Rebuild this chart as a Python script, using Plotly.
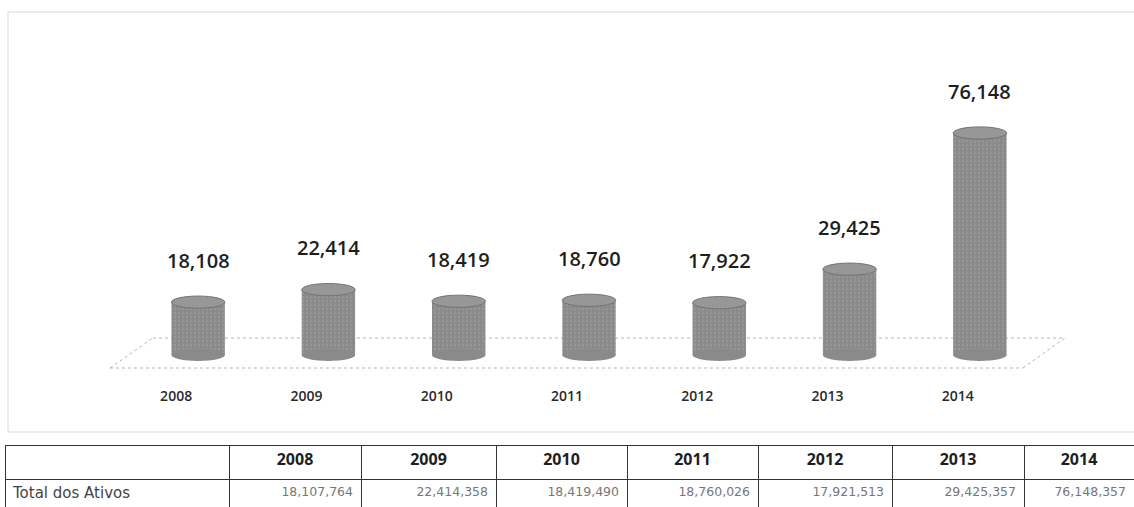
import plotly.graph_objects as go

# ---- data ----
years = ["2008", "2009", "2010", "2011", "2012", "2013", "2014"]
values_thousands = [18108, 22414, 18419, 18760, 17922, 29425, 76148]
bar_labels = ["18,108", "22,414", "18,419", "18,760", "17,922", "29,425", "76,148"]
row_label = "Total dos Ativos"
table_values = ["18,107,764", "22,414,358", "18,419,490", "18,760,026",
                "17,921,513", "29,425,357", "76,148,357"]

W, H = 1134, 507
px = lambda x: x / W
py = lambda y: 1 - y / H

BAR_GRAY = "#8a8a8a"
TOP_GRAY = "#979797"

fig = go.Figure()

fig.add_trace(go.Bar(
    x=list(range(len(years))), y=values_thousands,
    width=0.41,
    marker=dict(color=BAR_GRAY, line=dict(width=0),
                pattern=dict(shape=".", fgcolor="#a8a8a8", size=4, solidity=0.25)),
    hoverinfo="skip", showlegend=False,
))

# cylinder caps derived from the data
cap = 2100
shapes = []
for i, v in enumerate(values_thousands):
    shapes.append(dict(type="circle", xref="x", yref="y", layer="above",
                       x0=i - 0.205, x1=i + 0.205, y0=-cap, y1=cap,
                       fillcolor=BAR_GRAY, line=dict(width=0)))
for i, v in enumerate(values_thousands):
    shapes.append(dict(type="circle", xref="x", yref="y", layer="above",
                       x0=i - 0.205, x1=i + 0.205, y0=v - cap, y1=v + cap,
                       fillcolor=TOP_GRAY, line=dict(color="#737373", width=1)))

# 3D floor (decorative) and chart border
floor = dict(color="#b5b5b5", width=1, dash="dot")
shapes += [
    dict(type="line", xref="paper", yref="paper", layer="below",
         x0=px(153), y0=py(338), x1=px(1065), y1=py(338), line=floor),
    dict(type="line", xref="paper", yref="paper", layer="below",
         x0=px(110), y0=py(368), x1=px(1023), y1=py(368), line=floor),
    dict(type="line", xref="paper", yref="paper", layer="below",
         x0=px(110), y0=py(368), x1=px(153), y1=py(338), line=floor),
    dict(type="line", xref="paper", yref="paper", layer="below",
         x0=px(1023), y0=py(368), x1=px(1065), y1=py(338), line=floor),
    dict(type="rect", xref="paper", yref="paper", layer="below",
         x0=px(8), y0=py(432), x1=px(1140), y1=py(12),
         line=dict(color="#d8d8d8", width=1)),
]

annotations = []
for i, (v, t) in enumerate(zip(values_thousands, bar_labels)):
    annotations.append(dict(x=i, y=v, xref="x", yref="y", text=t,
                            showarrow=False, yshift=42,
                            font=dict(family="Open Sans", size=20,
                                      color="#1e1e1e", weight=600)))

# table
fig.add_trace(go.Table(
    domain=dict(x=[px(5), 1.0], y=[0, 62 / H]),
    columnwidth=[224, 132, 135, 131, 131, 134, 132, 110],
    header=dict(values=[""] + years, height=34, align="center",
                fill_color="white",
                line=dict(color="#333333", width=1),
                font=dict(family="Open Sans", size=16, color="#1e1e1e",
                          weight=700)),
    cells=dict(values=[[row_label]] + [[v] for v in table_values],
               height=28,
               align=["left"] + ["right"] * 7,
               fill_color="white",
               line=dict(color="#333333", width=1),
               font=dict(family=["DejaVu Sans"] + ["DejaVu Sans"] * 7,
                         size=[15] + [12.5] * 7,
                         color=["#444"] + ["#777"] * 7)),
))

fig.update_layout(
    width=W, height=H,
    margin=dict(l=0, r=0, t=0, b=0),
    paper_bgcolor="white", plot_bgcolor="white",
    shapes=shapes, annotations=annotations,
    xaxis=dict(domain=[px(133), px(1045)], range=[-0.5, 6.5],
               tickmode="array", tickvals=list(range(len(years))),
               ticktext=years, showgrid=False, zeroline=False,
               showline=False, ticks="",
               ticklabelshift=-22, ticklabelstandoff=22,
               tickfont=dict(family="Open Sans", size=14, color="#2a2a2a",
                             weight=600)),
    yaxis=dict(domain=[(H - 363.7) / H, (H - 107.2) / H],
               range=[-3000, 85000], visible=False),
)

fig.write_html("out.html")
